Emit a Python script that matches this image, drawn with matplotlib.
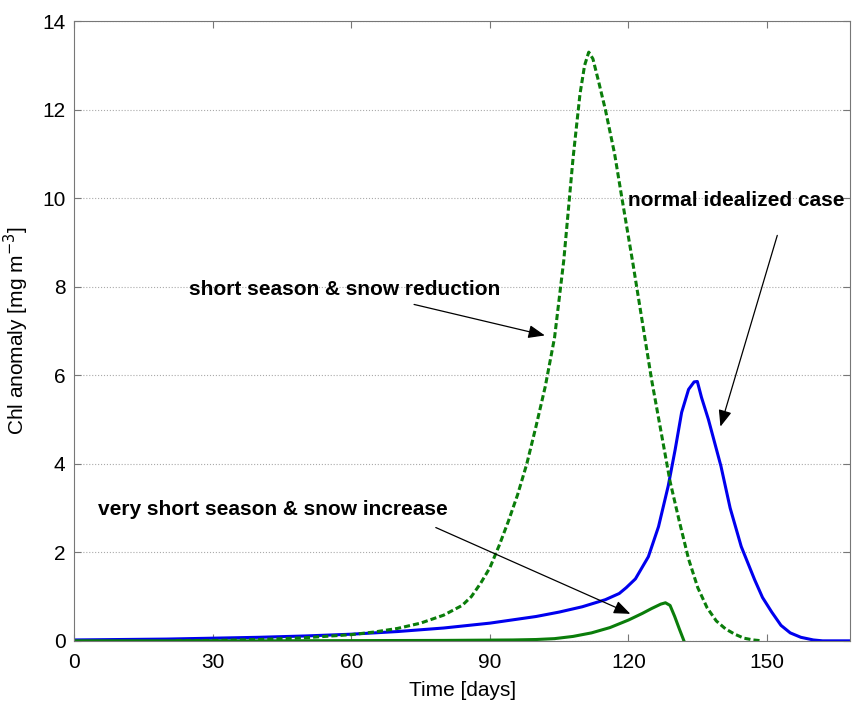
import matplotlib

matplotlib.use("Agg")
import matplotlib.pyplot as plt

plt.rcParams["font.family"] = ["Liberation Sans", "DejaVu Sans"]

# normal idealized case (blue, solid)
normal_days = [0, 10, 20, 30, 40, 50, 60, 70, 80, 90, 100, 105, 110, 115, 118,
               119.5, 121.5, 124.3, 126.5, 128.6, 130.1, 131.5, 133, 134.2,
               134.9, 135.8, 137.3, 140, 142, 144.4, 147.3, 149, 151, 153, 155,
               157.3, 160, 162, 165, 168]
normal_chl = [0.02, 0.03, 0.04, 0.06, 0.08, 0.11, 0.15, 0.21, 0.29, 0.40, 0.55,
              0.65, 0.77, 0.93, 1.07, 1.2, 1.4, 1.9, 2.58, 3.5, 4.32, 5.16, 5.68,
              5.85, 5.86, 5.5, 5.0, 3.95, 3.0, 2.13, 1.38, 0.98, 0.65, 0.35,
              0.18, 0.08, 0.02, 0.0, 0.0, 0.0]

# short season & snow reduction (green, dashed)
short_days = [22, 30, 40, 50, 60, 65, 70, 75, 80, 84, 86, 88, 90, 92, 94, 96, 98,
              100, 102, 104, 106, 108, 109.5, 110.5, 111.4, 112.3, 113.5, 115,
              117, 118.5, 121, 123, 125, 127, 129, 131, 133, 135, 137, 139, 141,
              143, 145, 147, 149]
short_chl = [0.0, 0.01, 0.03, 0.07, 0.14, 0.2, 0.28, 0.4, 0.58, 0.8, 1.0, 1.3,
             1.65, 2.15, 2.7, 3.3, 4.0, 4.85, 5.75, 6.85, 8.6, 10.9, 12.35, 13.0,
             13.3, 13.15, 12.65, 12.0, 11.0, 10.05, 8.5, 7.2, 5.9, 4.75, 3.6,
             2.7, 1.85, 1.2, 0.75, 0.45, 0.27, 0.15, 0.06, 0.02, 0.0]

# very short season & snow increase (green, solid)
vshort_days = [0, 20, 40, 60, 80, 95, 100, 104, 108, 112, 116, 120, 123, 125,
               127, 128, 129, 130, 131, 132]
vshort_chl = [0.0, 0.0, 0.0, 0.005, 0.01, 0.02, 0.03, 0.05, 0.1, 0.18, 0.3, 0.47,
              0.62, 0.73, 0.83, 0.86, 0.8, 0.55, 0.27, 0.0]

x_ticks = [0, 30, 60, 90, 120, 150]
y_ticks = [0, 2, 4, 6, 8, 10, 12, 14]

fig = plt.figure(figsize=(8.55, 7.05), dpi=100)
ax = fig.add_axes([0.0865, 0.091, 0.908, 0.879])

ax.plot(normal_days, normal_chl, color="#0000ee", lw=2.2)
ax.plot(short_days, short_chl, color="#0a7d0a", lw=2.2, linestyle=(0, (2, 1)))
ax.plot(vshort_days, vshort_chl, color="#0a7d0a", lw=2.2)

ax.set_xlim(0, 168)
ax.set_ylim(0, 14)
ax.set_xticks(x_ticks)
ax.set_yticks(y_ticks)
ax.tick_params(direction="in", labelsize=15, color="#777777", length=5,
               top=True, right=True)
ax.tick_params(axis="x", pad=9)
ax.tick_params(axis="y", pad=6)
ax.yaxis.grid(True, linestyle=":", color="#aaaaaa", lw=0.8)
for s in ax.spines.values():
    s.set_color("#777777")

ax.set_xlabel("Time [days]", fontsize=15, labelpad=6)
ax.set_ylabel("Chl anomaly [mg m$^{-3}$]", fontsize=15, labelpad=8)

arrow = dict(arrowstyle="-|>,head_length=1.0,head_width=0.4", color="black",
             lw=0.9, shrinkA=0, shrinkB=0)
ax.annotate("", xy=(139.9, 4.84), xytext=(152.2, 9.16), arrowprops=arrow)
ax.annotate("", xy=(101.9, 6.9), xytext=(73.6, 7.6), arrowprops=arrow)
ax.annotate("", xy=(120.4, 0.61), xytext=(78.3, 2.56), arrowprops=arrow)

ax.text(120, 9.95, "normal idealized case", fontsize=15, fontweight="bold",
        va="center", ha="left")
ax.text(25, 7.94, "short season & snow reduction", fontsize=15,
        fontweight="bold", va="center", ha="left")
ax.text(5.2, 2.96, "very short season & snow increase", fontsize=15,
        fontweight="bold", va="center", ha="left")

fig.savefig("out.png", dpi=100)
